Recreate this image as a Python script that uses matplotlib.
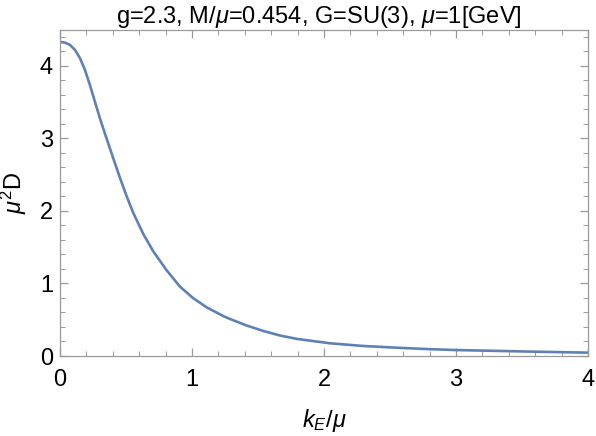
import numpy as np
import matplotlib.pyplot as plt
from matplotlib.ticker import MultipleLocator

plt.rcParams['font.family'] = ['Liberation Sans', 'DejaVu Sans']
plt.rcParams['mathtext.fontset'] = 'custom'
plt.rcParams['mathtext.rm'] = 'Liberation Sans'
plt.rcParams['mathtext.it'] = 'Liberation Sans:italic'

# curve
k_over_mu = [0.0, 0.038, 0.076, 0.114, 0.152, 0.189, 0.227, 0.265, 0.303, 0.341,
             0.379, 0.404, 0.455, 0.505, 0.555, 0.631, 0.707, 0.808, 0.909, 1.010,
             1.111, 1.237, 1.288, 1.414, 1.540, 1.667, 1.793, 2.045, 2.298, 2.551,
             2.803, 3.0, 3.58, 4.0]
mu2_D = [4.325, 4.316, 4.284, 4.215, 4.10, 3.94, 3.73, 3.50, 3.27, 3.06,
         2.855, 2.72, 2.45, 2.20, 1.97, 1.68, 1.44, 1.18, 0.955, 0.795,
         0.67, 0.55, 0.51, 0.42, 0.345, 0.282, 0.236, 0.175, 0.138, 0.114,
         0.094, 0.082, 0.06, 0.046]

x = np.array(k_over_mu)
y = np.array(mu2_D)

fig = plt.figure(figsize=(5.96, 4.36), dpi=100)
ax = fig.add_axes([60/596, 80/436, 528/596, 326/436])

ax.plot(x, y, color='#5E81B5', lw=1.9, solid_capstyle='round', solid_joinstyle='round')

ax.set_xlim(0, 4)
ax.set_ylim(0, 4.49)
ax.xaxis.set_major_locator(MultipleLocator(1))
ax.xaxis.set_minor_locator(MultipleLocator(0.2))
ax.yaxis.set_major_locator(MultipleLocator(1))
ax.yaxis.set_minor_locator(MultipleLocator(0.2))

gray = '#999999'
for s in ax.spines.values():
    s.set_color(gray)
    s.set_linewidth(0.9)
ax.tick_params(which='both', direction='in', top=True, right=True, color=gray,
               labelsize=17, labelcolor='black')
ax.tick_params(which='major', length=6, width=0.9)
ax.tick_params(which='minor', length=3.5, width=0.7)
ax.tick_params(axis='x', which='major', pad=9)
ax.tick_params(axis='y', which='major', pad=5)

ax.set_title(r'g=2.3, M/$\mu$=0.454, G=SU(3), $\mu$=1[GeV]', fontsize=17, pad=2.5, x=0.49)
ax.set_xlabel(r'$k_E/\mu$', fontsize=17, labelpad=12)
ax.set_ylabel(r'$\mu^2\mathrm{D}$', fontsize=17, labelpad=8)

fig.savefig('out.png', dpi=100)
